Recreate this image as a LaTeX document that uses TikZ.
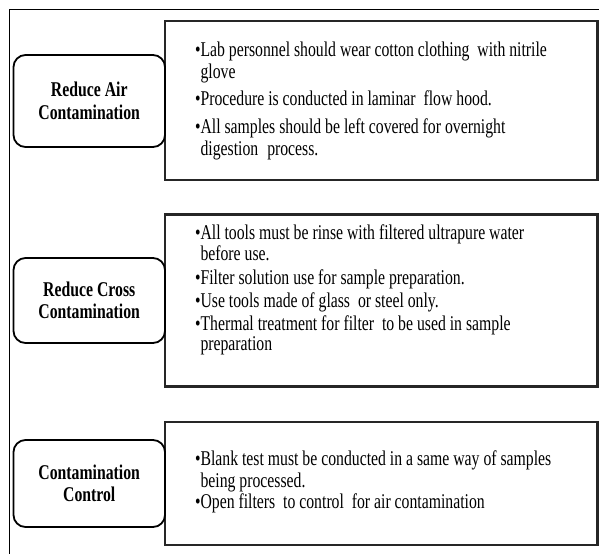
\documentclass[tikz,border=0pt]{standalone}
\usepackage{fontspec}
\setmainfont{Liberation Serif}
\newfontfamily\bodyfont[FakeStretch=0.75]{Liberation Serif}
\begin{document}
\begin{tikzpicture}[x=1pt,y=-1pt,
  every node/.style={inner sep=0pt,outer sep=0pt},
  labelbox/.style={draw=black,line width=1.8pt,rounded corners=12pt,fill=white,
    minimum width=151.5pt,minimum height=92pt,align=center,
    font=\bodyfont\bfseries\fontsize{21}{22.5}\selectfont},
  textbox/.style={draw=black!85,line width=2.4pt,fill=white,
    minimum width=432.5pt,minimum height=159pt},
  line/.style={anchor=base west,font=\bodyfont\fontsize{21}{22}\selectfont,text=black}
]
\fill[white] (0,0) rectangle (599,554);
\useasboundingbox (0,0) rectangle (599,554);
\draw[line width=1.8pt] (599,9.5) -- (9.5,9.5) -- (9.5,554);

% text boxes
\node[textbox,minimum height=159pt] (t1) at (381.25,100.5) {};
\node[textbox,minimum height=172pt] (t2) at (381.25,300.5) {};
\node[textbox,minimum height=123pt] (t3) at (381.25,483.5) {};

% label boxes
\node[labelbox,minimum height=92pt] (l1) at (89.25,101) {Reduce Air\\Contamination};
\node[labelbox,minimum height=85pt] (l2) at (89.25,300.5) {Reduce Cross\\Contamination};
\node[labelbox,minimum height=87pt] (l3) at (89.25,483.5) {Contamination\\Control};

% box 1 lines
\node[line] (a1) at (195,56) {•Lab personnel should wear cotton clothing\ \ with nitrile};
\node[line] (a2) at (200.5,78) {glove};
\node[line] (a3) at (195,105) {•Procedure is conducted in laminar\ \ flow hood.};
\node[line] (a4) at (195,133) {•All samples should be left covered for overnight};
\node[line] (a5) at (200.5,155) {digestion\hspace{9pt}process.};

% box 2 lines
\node[line] (b1) at (195,239) {•All tools must be rinse with filtered ultrapure water};
\node[line] (b2) at (200.5,260) {before use.};
\node[line] (b3) at (195,284) {•Filter solution use for sample preparation.};
\node[line] (b4) at (195,307) {•Use tools made of glass\ \ or steel only.};
\node[line] (b5) at (195,330) {•Thermal treatment for filter\ \ to be used in sample};
\node[line] (b6) at (200.5,350) {preparation};

% box 3 lines
\node[line] (c1) at (195,465) {•Blank test must be conducted in a same way of samples};
\node[line] (c2) at (200.5,487) {being processed.};
\node[line] (c3) at (195,508) {•Open filters\ \ to control\ \ for air contamination};
\end{tikzpicture}
\end{document}
